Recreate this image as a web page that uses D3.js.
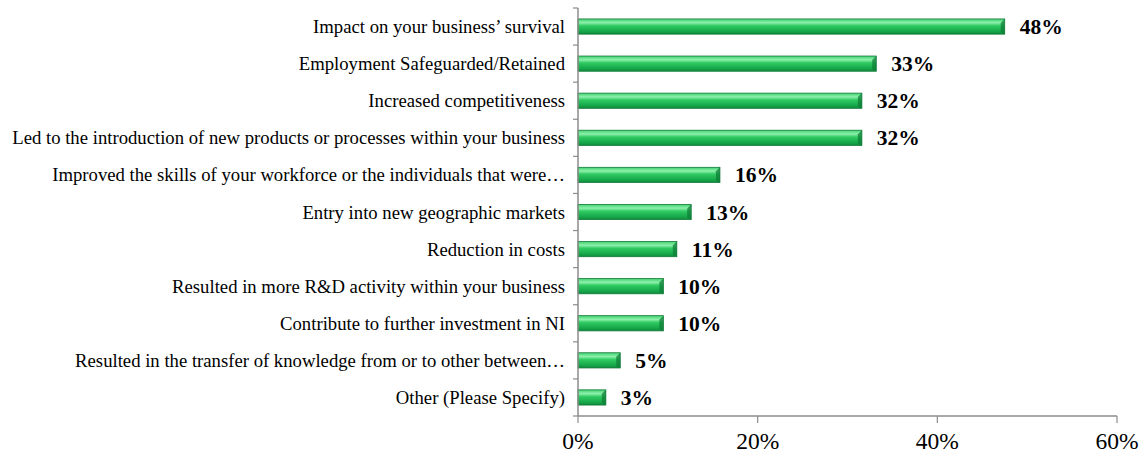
<!DOCTYPE html>
<html>
<head>
	<title>impact chart</title>
	<script src="https://cdnjs.cloudflare.com/ajax/libs/d3/7.8.5/d3.min.js"></script>
	<style>
		body { margin: 0; background: #fff; }
		svg { display: block; }
	</style>
</head>
<body>
	<svg width="1141" height="455"></svg>
	<script type="text/javascript">

		var categories = [
			"Impact on your business\u2019 survival",
			"Employment Safeguarded/Retained",
			"Increased competitiveness",
			"Led to the introduction of new products or processes within your business",
			"Improved the skills of your workforce or the individuals that were\u2026",
			"Entry into new geographic markets",
			"Reduction in costs",
			"Resulted in more R&D activity within your business",
			"Contribute to further investment in NI",
			"Resulted in the transfer of knowledge from or to other between\u2026",
			"Other (Please Specify)"
		];
		var values = [47.5, 33.2, 31.6, 31.6, 15.8, 12.6, 11.0, 9.5, 9.5, 4.7, 3.1];
		var valueLabels = ["48%", "33%", "32%", "32%", "16%", "13%", "11%", "10%", "10%", "5%", "3%"];
		var xTicks = [0, 20, 40, 60];

		var svg = d3.select("svg");
		var plotLeft = 578, plotRight = 1117, plotTop = 8, plotBottom = 416;

		var x = d3.scaleLinear().domain([0, 60]).range([plotLeft, plotRight]);
		var y = d3.scaleBand().domain(categories).range([plotTop, plotBottom]).paddingInner(0.59).paddingOuter(0.295);

		var defs = svg.append("defs");
		var grad = defs.append("linearGradient").attr("id", "barGrad")
			.attr("x1", 0).attr("y1", 0).attr("x2", 0).attr("y2", 1);
		grad.append("stop").attr("offset", "0%").attr("stop-color", "#3fd26f");
		grad.append("stop").attr("offset", "25%").attr("stop-color", "#8df0ab");
		grad.append("stop").attr("offset", "45%").attr("stop-color", "#2fca62");
		grad.append("stop").attr("offset", "80%").attr("stop-color", "#17a94b");
		grad.append("stop").attr("offset", "100%").attr("stop-color", "#0e8a3b");

		var data = categories.map(function(c, i) { return {cat: c, v: values[i], lab: valueLabels[i]}; });

		var bars = svg.append("g").selectAll("g").data(data).enter().append("g");

		bars.append("rect")
			.attr("x", x(0))
			.attr("y", function(d) { return y(d.cat); })
			.attr("width", function(d) { return x(d.v) - x(0); })
			.attr("height", y.bandwidth())
			.style("fill", "url(#barGrad)")
			.style("stroke", "#137a3a")
			.style("stroke-width", "0.8px");

		// darker bevel at the bar end
		bars.append("path")
			.attr("d", function(d) {
				var x1 = x(d.v), y0 = y(d.cat), h = y.bandwidth(), b = 4;
				return "M" + (x1 - b) + "," + (y0 + b) + "L" + x1 + "," + y0 + "L" + x1 + "," + (y0 + h) + "L" + (x1 - b) + "," + (y0 + h - 2) + "Z";
			})
			.style("fill", "#0f7d37")
			.style("opacity", 0.75);

		bars.append("text")
			.attr("x", function(d) { return x(d.v) + 15; })
			.attr("y", function(d) { return y(d.cat) + y.bandwidth() / 2; })
			.attr("dy", "0.35em")
			.style("font-family", "'Liberation Serif', 'Times New Roman', serif")
			.style("font-weight", "bold")
			.style("font-size", "21.5px")
			.style("fill", "#000")
			.text(function(d) { return d.lab; });

		// y axis
		var yAxis = svg.append("g");
		yAxis.append("line").attr("x1", plotLeft).attr("x2", plotLeft).attr("y1", plotTop).attr("y2", plotBottom)
			.style("stroke", "#8c8c8c").style("stroke-width", "1.5px");
		var bounds = categories.map(function(c) { return y(c) - y.step() * y.paddingInner() / 2; });
		bounds.push(plotBottom);
		yAxis.selectAll("line.tick").data(bounds).enter().append("line")
			.attr("class", "tick")
			.attr("x1", plotLeft - 5).attr("x2", plotLeft)
			.attr("y1", function(d) { return d; }).attr("y2", function(d) { return d; })
			.style("stroke", "#8c8c8c").style("stroke-width", "1.2px");
		yAxis.selectAll("text").data(categories).enter().append("text")
			.attr("x", plotLeft - 13)
			.attr("y", function(d) { return y(d) + y.bandwidth() / 2; })
			.attr("dy", "0.35em")
			.attr("text-anchor", "end")
			.style("font-family", "'Liberation Serif', 'Times New Roman', serif")
			.style("font-size", "18.7px")
			.style("fill", "#000")
			.text(function(d) { return d; });

		// x axis
		var xAxis = svg.append("g");
		xAxis.append("line").attr("x1", plotLeft).attr("x2", plotRight).attr("y1", plotBottom).attr("y2", plotBottom)
			.style("stroke", "#8c8c8c").style("stroke-width", "1.5px");
		xAxis.selectAll("line.tick").data(xTicks).enter().append("line")
			.attr("class", "tick")
			.attr("x1", function(d) { return x(d); }).attr("x2", function(d) { return x(d); })
			.attr("y1", plotBottom).attr("y2", plotBottom + 7)
			.style("stroke", "#8c8c8c").style("stroke-width", "1.2px");
		xAxis.selectAll("text").data(xTicks).enter().append("text")
			.attr("x", function(d) { return x(d); })
			.attr("y", 441)
			.attr("dy", "0.35em")
			.attr("text-anchor", "middle")
			.style("font-family", "'Liberation Serif', 'Times New Roman', serif")
			.style("font-size", "23.5px")
			.style("fill", "#000")
			.text(function(d) { return d + "%"; });
	</script>
</body>
</html>
